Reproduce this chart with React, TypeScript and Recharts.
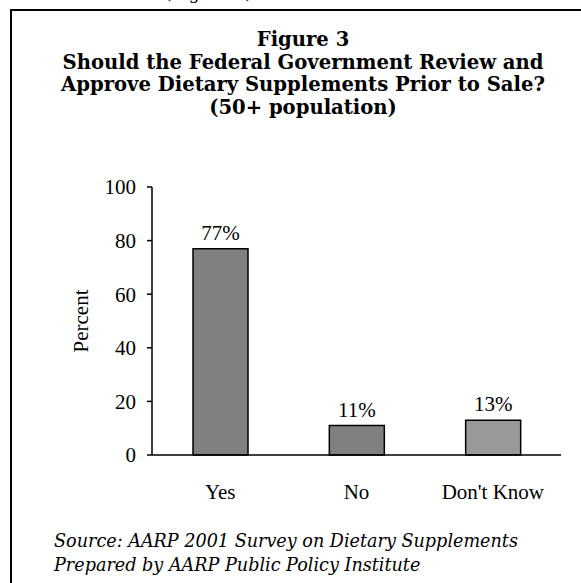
import { BarChart, Bar, Cell, XAxis, YAxis, LabelList } from "recharts";

// Survey answers and the share of respondents giving each one.
const ANSWERS = ["Yes", "No", "Don't Know"];
const PERCENTS = [77, 11, 13];
const BAR_FILLS = ["#808080", "#808080", "#999999"];

const Y_TICKS = [0, 20, 40, 60, 80, 100];
// Tick marks sit on the category boundaries, not under the bars.
const EDGE_TICKS = [0, 1, 2, 3];

const TITLE_LINES = [
  "Figure 3",
  "Should the Federal Government Review and",
  "Approve Dietary Supplements Prior to Sale?",
  "(50+ population)",
];
const SOURCE_LINES = [
  "Source: AARP 2001 Survey on Dietary Supplements",
  "Prepared by AARP Public Policy Institute",
];

const data = ANSWERS.map((answer, i) => ({ answer, pct: PERCENTS[i] }));

const SERIF = "'Liberation Serif', 'Times New Roman', serif";
const BOOK = "'DejaVu Serif', serif";
const axisStroke = { stroke: "#000", strokeWidth: 1.5 };
const tickText = { fill: "#000", fontSize: 21, fontFamily: SERIF };

function PercentLabel({ viewBox }: any) {
  const cx = viewBox.x + viewBox.width * 0.53;
  const cy = viewBox.y + viewBox.height / 2;
  return (
    <text
      x={cx}
      y={cy}
      transform={`rotate(-90 ${cx} ${cy})`}
      textAnchor="middle"
      dominantBaseline="central"
      fontFamily={SERIF}
      fontSize={21}
      fill="#000"
    >
      Percent
    </text>
  );
}

export default function App() {
  return (
    <div
      style={{
        position: "absolute",
        left: 0,
        top: 0,
        width: 581,
        height: 583,
        overflow: "hidden",
        background: "#fff",
      }}
    >
      <BarChart
        width={581}
        height={583}
        data={data}
        margin={{ top: 187, right: 20, bottom: 0, left: 0 }}
      >
        <XAxis
          xAxisId="edges"
          type="number"
          domain={[0, 3]}
          ticks={EDGE_TICKS}
          allowDataOverflow
          height={0}
          axisLine={false}
          tickSize={8}
          tickLine={axisStroke}
          tickFormatter={() => ""}
        />
        <XAxis
          dataKey="answer"
          height={128}
          axisLine={axisStroke}
          tickLine={false}
          tickSize={0}
          tickMargin={29}
          tick={tickText}
          interval={0}
        />
        <YAxis
          width={152}
          domain={[0, 100]}
          ticks={Y_TICKS}
          axisLine={axisStroke}
          tickLine={axisStroke}
          tickSize={5}
          tickMargin={11}
          tick={tickText}
          label={<PercentLabel />}
        />
        <Bar dataKey="pct" barSize={55} stroke="#000" strokeWidth={1.5} isAnimationActive={false}>
          {data.map((d, i) => (
            <Cell key={d.answer} fill={BAR_FILLS[i]} />
          ))}
          <LabelList
            dataKey="pct"
            position="top"
            offset={9}
            formatter={(v: any) => `${v}%`}
            style={{ fill: "#000", fontSize: 21, fontFamily: SERIF }}
          />
        </Bar>
      </BarChart>

      <svg
        width={581}
        height={583}
        style={{ position: "absolute", left: 0, top: 0, pointerEvents: "none" }}
      >
        {/* tail of the running text above the figure box */}
        <text x={165} y={-1} fontFamily={BOOK} fontSize={17} fill="#000">
          (Figure 3).
        </text>
        <rect x={11} y={10} width={600} height={600} fill="none" stroke="#000" strokeWidth={2} />
        {TITLE_LINES.map((line, i) => (
          <text
            key={line}
            x={303}
            y={46 + i * 22.5}
            textAnchor="middle"
            fontFamily={BOOK}
            fontWeight="bold"
            fontSize={19.6}
            fill="#000"
          >
            {line}
          </text>
        ))}
        {SOURCE_LINES.map((line, i) => (
          <text
            key={line}
            x={54}
            y={547 + i * 24}
            fontFamily={BOOK}
            fontStyle="italic"
            fontSize={17.6}
            fill="#000"
          >
            {line}
          </text>
        ))}
      </svg>
    </div>
  );
}
